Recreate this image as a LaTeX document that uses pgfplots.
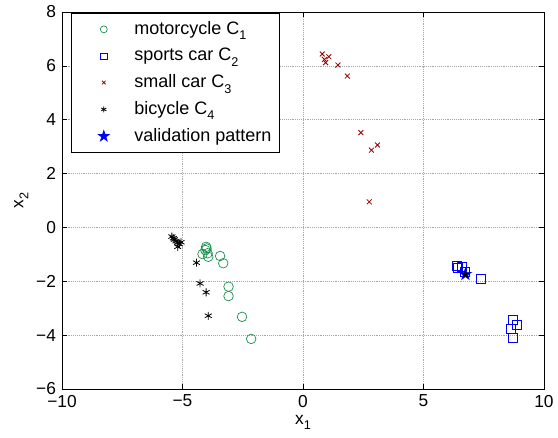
\documentclass[border=0pt]{standalone}
\usepackage{pgfplots}
\pgfplotsset{compat=1.18}
\usepackage{fontspec}
\setmainfont{Liberation Sans}
\definecolor{mgreen}{RGB}{20,140,70}
\definecolor{mred}{RGB}{150,0,0}
\pgfdeclareplotmark{pentagram}{%
  \pgfpathmoveto{\pgfpointpolar{90}{\pgfplotmarksize}}%
  \pgfpathlineto{\pgfpointpolar{126}{0.382\pgfplotmarksize}}%
  \pgfpathlineto{\pgfpointpolar{162}{\pgfplotmarksize}}%
  \pgfpathlineto{\pgfpointpolar{198}{0.382\pgfplotmarksize}}%
  \pgfpathlineto{\pgfpointpolar{234}{\pgfplotmarksize}}%
  \pgfpathlineto{\pgfpointpolar{270}{0.382\pgfplotmarksize}}%
  \pgfpathlineto{\pgfpointpolar{306}{\pgfplotmarksize}}%
  \pgfpathlineto{\pgfpointpolar{342}{0.382\pgfplotmarksize}}%
  \pgfpathlineto{\pgfpointpolar{18}{\pgfplotmarksize}}%
  \pgfpathlineto{\pgfpointpolar{54}{0.382\pgfplotmarksize}}%
  \pgfpathclose
  \pgfusepathqfillstroke}
\newcommand{\sub}[1]{\raisebox{-0.55ex}{\fontsize{9.5}{10}\selectfont #1}}
\pgfplotsset{mylegend/.style={legend image code/.code={%
  \path (0pt,0pt) (41pt,0pt);
  \draw[##1] plot coordinates {(22pt,0pt)};}}}
\begin{document}
\fontsize{13}{15}\selectfont
\begin{tikzpicture}
\path[use as bounding box] (-46.5pt,-36pt) rectangle (372pt,291.75pt);
\begin{axis}[
  scale only axis, width=361.5pt, height=282.75pt,
  at={(0,0)}, anchor=south west,
  xmin=-10, xmax=10, ymin=-6, ymax=8,
  xtick={-10,-5,0,5,10}, xticklabels={−10,−5,0,5,10},
  ytick={-6,-4,-2,0,2,4,6,8}, yticklabels={−6,−4,−2,0,2,4,6,8},
  grid=major, grid style={densely dotted, gray!70, line width=0.5pt},
  tick style={black, line width=0.5pt}, major tick length=4pt,
  axis line style={line width=0.6pt},
  tick label style={font=\fontsize{13}{15}\selectfont},
  label style={font=\fontsize{13}{15}\selectfont},
  xlabel={x\sub{1}}, ylabel={x\sub{2}},
  xlabel style={yshift=3pt},
  ylabel style={yshift=-3pt},
  legend cell align=left,
  legend style={at={(0.0187,0.997)}, anchor=north west, draw=black, line width=0.6pt,
    font=\fontsize{13.5}{15.5}\selectfont, row sep=4.4pt, inner xsep=2pt, inner ysep=4pt,
    nodes={inner xsep=3.6pt}},
]
\addlegendimage{only marks, mark=o, mgreen, mark size=2.6pt, line width=0.5pt, mylegend}
\addlegendentry{motorcycle C\sub{1}}
\addlegendimage{only marks, mark=square, blue, mark size=2.3pt, line width=0.5pt, mylegend}
\addlegendentry{sports car C\sub{2}}
\addlegendimage{only marks, mark=x, mred, mark size=1.9pt, line width=0.6pt, mylegend}
\addlegendentry{small car C\sub{3}}
\addlegendimage{only marks, mark=asterisk, black, mark size=2.2pt, line width=0.6pt, mylegend}
\addlegendentry{bicycle C\sub{4}}
\addlegendimage{only marks, mark=pentagram, draw=blue, fill=blue, mark size=4.3pt, line width=0.5pt, mylegend}
\addlegendentry{validation pattern}

\addplot[only marks, mark=o, mgreen, mark size=3.6pt, line width=0.5pt, forget plot] coordinates {
(-4.02,-0.72) (-4.00,-0.78) (-4.05,-0.84) (-4.17,-0.99) (-3.96,-0.96) (-3.93,-1.09)
(-3.44,-1.06) (-3.31,-1.33) (-3.09,-2.20) (-3.09,-2.55) (-2.53,-3.32) (-2.15,-4.14)
};
\addplot[only marks, mark=square, blue, mark size=3.4pt, line width=0.5pt, forget plot] coordinates {
(6.37,-1.42) (6.44,-1.50) (6.60,-1.48) (6.72,-1.64) (7.37,-1.92)
(8.70,-3.44) (8.89,-3.60) (8.62,-3.78) (8.72,-4.10)
};
\addplot[only marks, mark=x, mred, mark size=2.6pt, line width=0.6pt, forget plot] coordinates {
(0.80,6.44) (1.07,6.34) (0.89,6.24) (0.94,6.12) (1.45,6.03) (1.84,5.62)
(2.40,3.52) (3.09,3.06) (2.84,2.87) (2.75,0.95)
};
\addplot[only marks, mark=asterisk, black, mark size=3pt, line width=0.6pt, forget plot] coordinates {
(-5.44,-0.34) (-5.38,-0.40) (-5.34,-0.45) (-5.27,-0.51) (-5.20,-0.56) (-5.13,-0.62)
(-5.20,-0.72) (-5.06,-0.55) (-4.42,-1.31) (-4.27,-2.08) (-4.02,-2.41) (-3.93,-3.28)
};
\addplot[only marks, mark=pentagram, draw=blue, fill=black, mark size=4.6pt, line width=0.5pt, forget plot] coordinates {
(6.74,-1.74)
};
\end{axis}
\end{tikzpicture}
\end{document}
